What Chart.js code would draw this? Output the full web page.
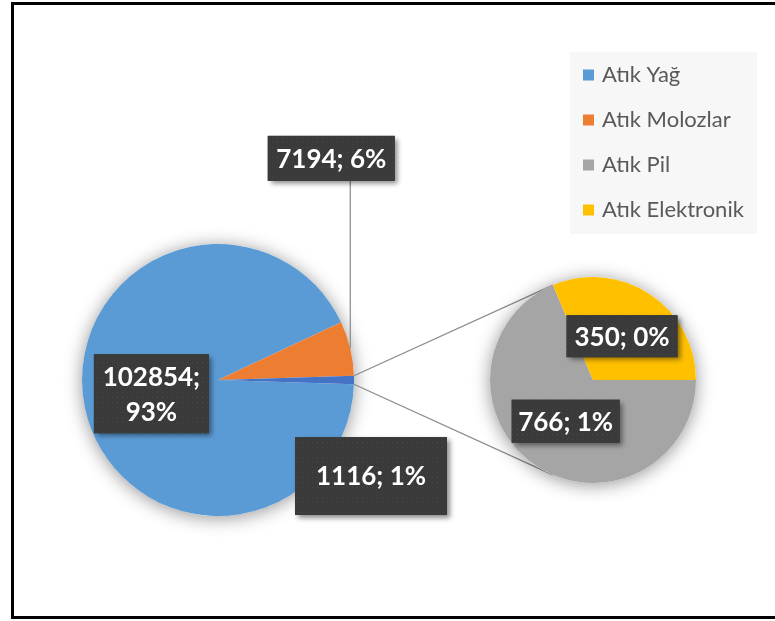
<!DOCTYPE html>
<html lang="tr">
<head>
<meta charset="utf-8">
<title>Atık Miktarları</title>
<script src="https://cdn.jsdelivr.net/npm/chart.js@4.4.1/dist/chart.umd.min.js"></script>
<style>
  html, body { margin: 0; padding: 0; background: #fff; overflow: hidden; }
  #wrap { position: relative; width: 775px; height: 621px; overflow: hidden; }
  #frame { position: absolute; left: 11px; top: 2px; width: 840px; height: 611px; border: 3px solid #000; pointer-events: none; }
  #mainPie { position: absolute; left: 0; top: 0; }
  #subPie { position: absolute; left: 470px; top: 257px; }
</style>
</head>
<body>
<div id="wrap">
  <canvas id="mainPie" width="775" height="621"></canvas>
  <canvas id="subPie" width="246" height="246"></canvas>
  <div id="frame"></div>
</div>
<script>
// ana pasta: son dilim (Diğer) = Pil + Elektronik, ikinci pastada açılıyor
const mainLabels = ["Atık Yağ", "Atık Molozlar", "Diğer"];
const mainValues = [102854, 7194, 1116];
const subLabels = ["Atık Pil", "Atık Elektronik"];
const subValues = [766, 350];
const legendLabels = ["Atık Yağ", "Atık Molozlar", "Atık Pil", "Atık Elektronik"];

const colors = {
  "Atık Yağ": "#5B9BD5",
  "Atık Molozlar": "#ED7D31",
  "Diğer": "#4472C4",
  "Atık Pil": "#A5A5A5",
  "Atık Elektronik": "#FFC000"
};

const total = mainValues.reduce((a, b) => a + b, 0);
const otherDeg = 360 * mainValues[2] / total;

// koyu etiket kutusu için noktalı doku
const dotCanvas = document.createElement("canvas");
dotCanvas.width = 5;
dotCanvas.height = 5;
const dctx = dotCanvas.getContext("2d");
dctx.fillStyle = "#3a3a3a";
dctx.fillRect(0, 0, 5, 5);
dctx.fillStyle = "#474747";
dctx.fillRect(2, 2, 1, 1);

function arcProps(arc) {
  return arc.getProps(["x", "y", "startAngle", "endAngle", "outerRadius"], true);
}

function drawBox(ctx, cx, cy, w, h, lines) {
  ctx.save();
  ctx.shadowColor = "rgba(0,0,0,0.45)";
  ctx.shadowBlur = 5;
  ctx.shadowOffsetX = 3;
  ctx.shadowOffsetY = 3;
  ctx.fillStyle = "#3a3a3a";
  ctx.fillRect(cx - w / 2, cy - h / 2, w, h);
  ctx.restore();

  ctx.save();
  ctx.fillStyle = ctx.createPattern(dotCanvas, "repeat");
  ctx.fillRect(cx - w / 2, cy - h / 2, w, h);
  ctx.fillStyle = "#ffffff";
  ctx.font = "bold 26px Lato";
  ctx.textAlign = "center";
  ctx.textBaseline = "middle";
  const lh = 35;
  lines.forEach((t, i) => {
    ctx.fillText(t, cx, cy + 1 + (i - (lines.length - 1) / 2) * lh);
  });
  ctx.restore();
}

// pastanın altına yumuşak gölge
const pieShadow = {
  id: "pieShadow",
  beforeDatasetsDraw(chart) {
    const a = arcProps(chart.getDatasetMeta(0).data[0]);
    const ctx = chart.ctx;
    ctx.save();
    ctx.shadowColor = "rgba(0,0,0,0.42)";
    ctx.shadowBlur = 18;
    ctx.shadowOffsetY = 2;
    ctx.fillStyle = "#ffffff";
    ctx.beginPath();
    ctx.arc(a.x, a.y, a.outerRadius, 0, Math.PI * 2);
    ctx.fill();
    ctx.restore();
  }
};

// değer; yüzde etiketleri
const valueLabels = {
  id: "valueLabels",
  afterDraw(chart, args, opts) {
    const ctx = chart.ctx;
    const meta = chart.getDatasetMeta(0);
    const values = chart.data.datasets[0].data;
    opts.specs.forEach((spec, i) => {
      const a = arcProps(meta.data[i]);
      const mid = (a.startAngle + a.endAngle) / 2;
      let cx, cy;
      if (spec.at === "inside") {
        cx = a.x + Math.cos(mid) * a.outerRadius * spec.r;
        cy = a.y + Math.sin(mid) * a.outerRadius * spec.r;
      } else {
        const ex = a.x + Math.cos(mid) * a.outerRadius;
        const ey = a.y + Math.sin(mid) * a.outerRadius;
        cx = ex + spec.dx;
        cy = ey + spec.dy;
        if (spec.leader) {
          ctx.save();
          ctx.strokeStyle = "#8c8c8c";
          ctx.lineWidth = 1.25;
          ctx.beginPath();
          ctx.moveTo(ex, ey);
          ctx.lineTo(ex, cy + spec.h / 2);
          ctx.stroke();
          ctx.restore();
        }
      }
      const v = values[i];
      const pct = Math.round(v / total * 100) + "%";
      const lines = spec.wrap ? [v + ";", pct] : [v + "; " + pct];
      drawBox(ctx, cx, cy, spec.w, spec.h, lines);
    });
  }
};

const subChart = new Chart(document.getElementById("subPie"), {
  type: "pie",
  data: {
    labels: subLabels,
    datasets: [{
      data: subValues,
      backgroundColor: subLabels.map((l) => colors[l]),
      borderWidth: 0,
      hoverOffset: 0
    }]
  },
  options: {
    responsive: false,
    animation: false,
    events: [],
    rotation: 90,
    layout: { padding: 20 },
    plugins: {
      legend: { display: false },
      tooltip: { enabled: false },
      valueLabels: {
        specs: [
          { at: "inside", r: 0.48, w: 108, h: 43 },
          { at: "inside", r: 0.51, w: 111, h: 42 }
        ]
      }
    }
  },
  plugins: [pieShadow, valueLabels]
});

// iki pasta arasındaki bağlantı çizgileri
const connectors = {
  id: "connectors",
  afterDatasetsDraw(chart) {
    const other = arcProps(chart.getDatasetMeta(0).data[2]);
    const sub = arcProps(subChart.getDatasetMeta(0).data[1]);
    const canvas = subChart.canvas;
    const ox = canvas.offsetLeft, oy = canvas.offsetTop;
    const sa = sub.startAngle;
    const top = { x: ox + sub.x + Math.cos(sa) * sub.outerRadius, y: oy + sub.y + Math.sin(sa) * sub.outerRadius };
    const bot = { x: ox + sub.x + Math.cos(sa) * sub.outerRadius, y: oy + sub.y - Math.sin(sa) * sub.outerRadius };
    const p1 = { x: other.x + Math.cos(other.startAngle) * other.outerRadius, y: other.y + Math.sin(other.startAngle) * other.outerRadius };
    const p2 = { x: other.x + Math.cos(other.endAngle) * other.outerRadius, y: other.y + Math.sin(other.endAngle) * other.outerRadius };
    const ctx = chart.ctx;
    ctx.save();
    ctx.strokeStyle = "#8c8c8c";
    ctx.lineWidth = 1.25;
    ctx.beginPath();
    ctx.moveTo(p1.x, p1.y);
    ctx.lineTo(top.x, top.y);
    ctx.moveTo(p2.x, p2.y);
    ctx.lineTo(bot.x, bot.y);
    ctx.stroke();
    ctx.restore();
  }
};

// sağ üstteki açıklama kutusu
const legendBox = {
  id: "legendBox",
  afterDraw(chart) {
    const ctx = chart.ctx;
    ctx.save();
    ctx.fillStyle = "#f7f7f7";
    ctx.fillRect(570, 52, 187, 182);
    ctx.font = "22px Lato";
    ctx.textBaseline = "middle";
    legendLabels.forEach((l, i) => {
      const y = 75 + i * 45;
      ctx.fillStyle = colors[l];
      ctx.fillRect(583, y - 5.5, 11, 11);
      ctx.fillStyle = "#595959";
      ctx.fillText(l, 602, y);
    });
    ctx.restore();
  }
};

new Chart(document.getElementById("mainPie"), {
  type: "pie",
  data: {
    labels: mainLabels,
    datasets: [{
      data: mainValues,
      backgroundColor: mainLabels.map((l) => colors[l]),
      borderWidth: 0,
      hoverOffset: 0
    }]
  },
  options: {
    responsive: false,
    animation: false,
    events: [],
    rotation: 90 + otherDeg / 2,
    layout: { padding: { left: 82, right: 421, top: 244, bottom: 105 } },
    plugins: {
      legend: { display: false },
      tooltip: { enabled: false },
      valueLabels: {
        specs: [
          { at: "inside", r: 0.5, w: 115, h: 79, wrap: true },
          { at: "edge", dx: -19, dy: -190, w: 127, h: 45, leader: true },
          { at: "edge", dx: 17, dy: 96, w: 152, h: 78 }
        ]
      }
    }
  },
  plugins: [pieShadow, connectors, valueLabels, legendBox]
});
</script>
</body>
</html>
